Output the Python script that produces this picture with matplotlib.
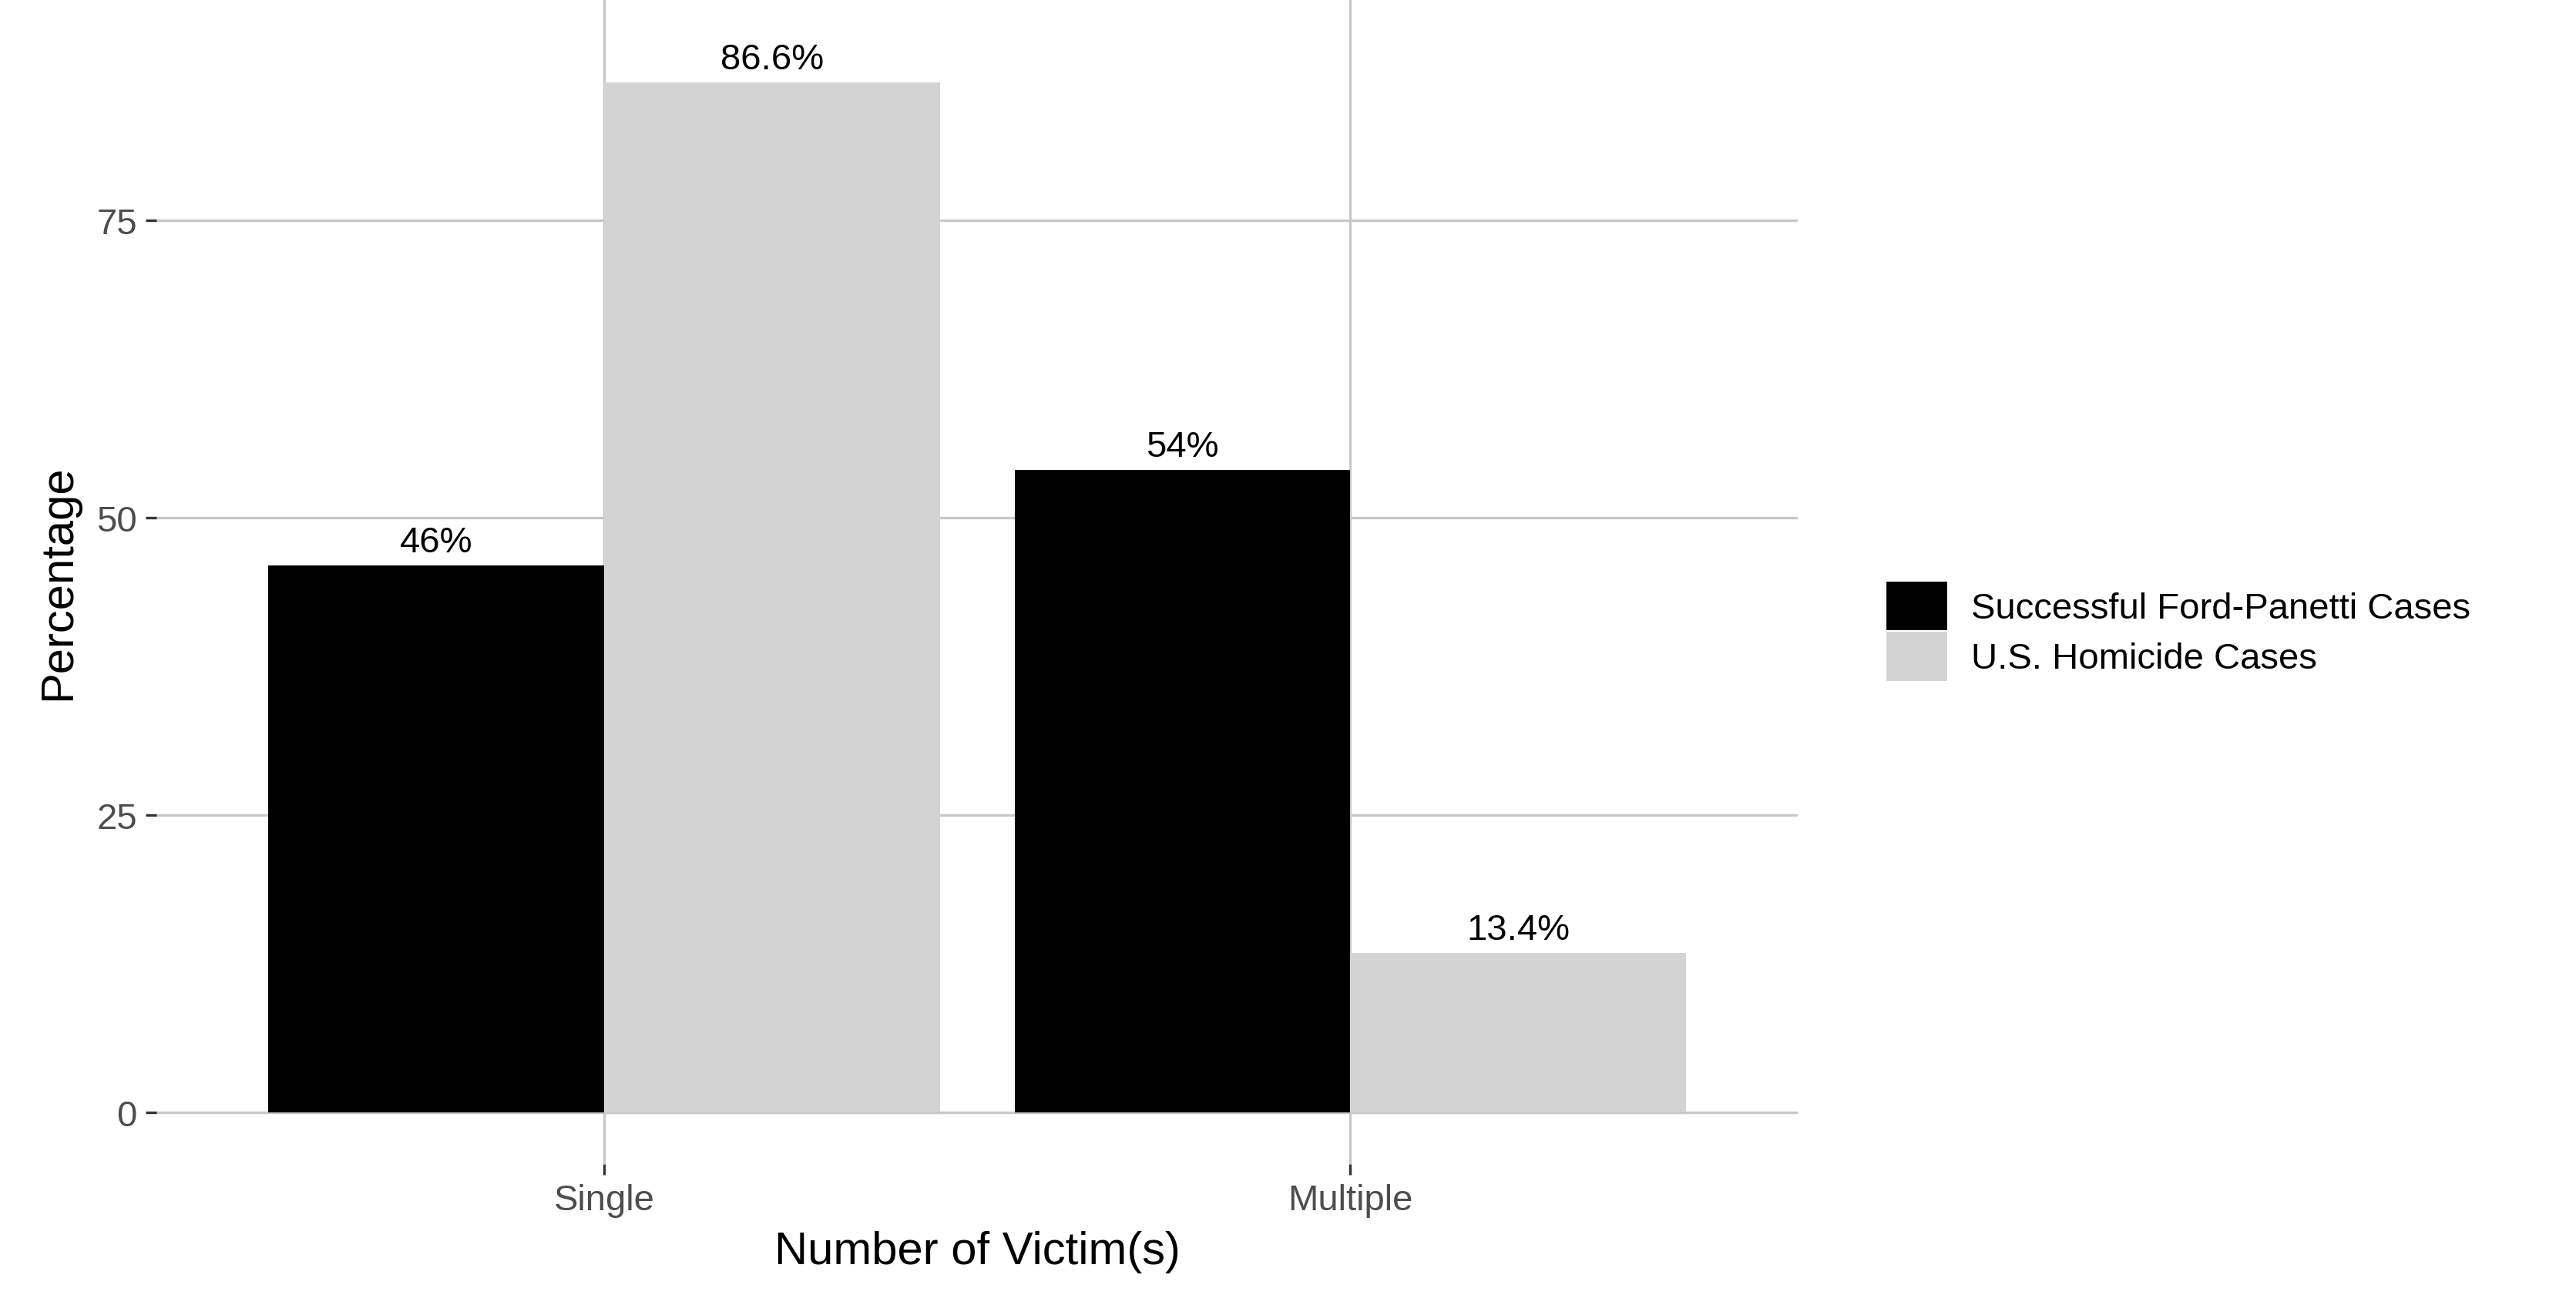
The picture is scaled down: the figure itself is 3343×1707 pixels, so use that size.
import numpy as np
import matplotlib
matplotlib.use('Agg')
import matplotlib.pyplot as plt
from matplotlib.patches import Patch

#=== Data ===#
categories = ["Single", "Multiple"]
series_names = ["Successful Ford-Panetti Cases", "U.S. Homicide Cases"]
ford_values = [46, 54]
us_values = [86.6, 13.4]
ford_labels = ["46%", "54%"]
us_labels = ["86.6%", "13.4%"]
colors = ["#000000", "#d3d3d3"]

plt.rcParams['font.family'] = ['Liberation Sans', 'DejaVu Sans']

fig = plt.figure(figsize=(3343/200, 1708/200), dpi=200)
ax = fig.add_axes([0.0607, 0.1147, 0.698 - 0.0607, 1.0 - 0.1147])

x = np.arange(1, len(categories) + 1)
w = 0.45
b1 = ax.bar(x - w/2, ford_values, width=w, color=colors[0], zorder=2)
b2 = ax.bar(x + w/2, us_values, width=w, color=colors[1], zorder=2)

for bars, labs in [(b1, ford_labels), (b2, us_labels)]:
    for rect, lab in zip(bars, labs):
        ax.annotate(lab, (rect.get_x() + rect.get_width()/2, rect.get_height()),
                    xytext=(0, 3), textcoords='offset points',
                    ha='center', va='bottom', fontsize=17, color='black')

ax.set_xlim(0.4, 2.6)
ax.set_ylim(-4.33, 93.6)
ax.set_xticks(x)
ax.set_xticklabels(categories)
ax.set_yticks([0, 25, 50, 75])
ax.grid(True, color='#c8c8c8', linewidth=1.2, zorder=0)
ax.set_axisbelow(True)
for s in ax.spines.values():
    s.set_visible(False)
ax.tick_params(axis='both', length=5, width=1.2, color='#333333',
               labelcolor='#4d4d4d', labelsize=17, pad=4)
ax.set_xlabel("Number of Victim(s)", fontsize=21.5, labelpad=6)
ax.set_ylabel("Percentage", fontsize=21.5, labelpad=8)

handles = [Patch(color=colors[0]), Patch(color=colors[1])]
fig.legend(handles, series_names, loc='center left', bbox_to_anchor=(0.72, 0.52),
           frameon=False, fontsize=17, handlelength=1.6, handleheight=1.6,
           labelspacing=0.1, handletextpad=0.7)

fig.savefig("out.png", dpi=200)
